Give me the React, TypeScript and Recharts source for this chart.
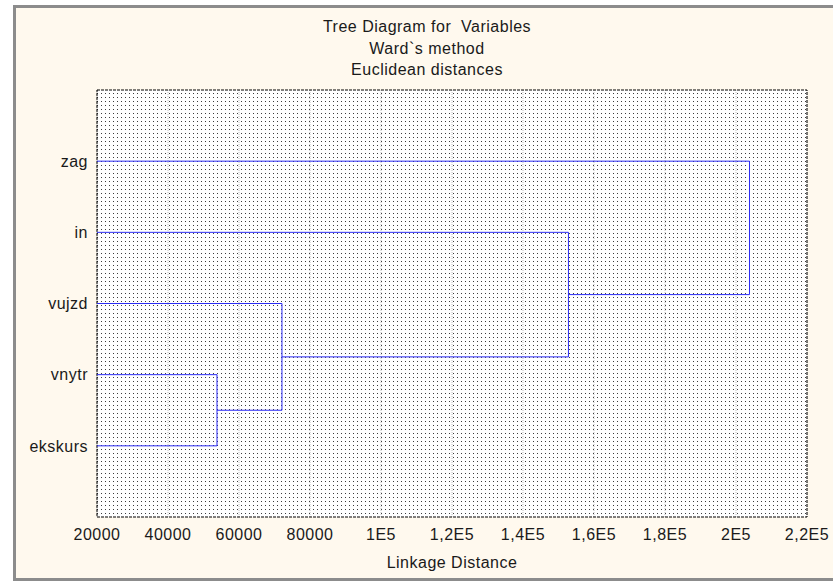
import { CartesianGrid, Line, LineChart, ReferenceArea, XAxis, YAxis } from 'recharts'

const leaves = ['ekskurs', 'vnytr', 'vujzd', 'in', 'zag']
const mergeDistances = [53800, 72100, 152800, 203800]
const xTicks = [20000, 40000, 60000, 80000, 100000, 120000, 140000, 160000, 180000, 200000, 220000]
const titleLines = ['Tree Diagram for  Variables', 'Ward`s method', 'Euclidean distances']
const xLabel = 'Linkage Distance'

const X_MIN = 20000
const X_MAX = 220000
const FONT = '"Liberation Sans", Arial, sans-serif'
const BLUE = '#2b2bf5'

// each merge joins the next leaf (from the bottom) with the cluster built so far
function buildLinks() {
  const links: { x: number; y: number }[][] = []
  let clusterY = 1
  let clusterX = X_MIN
  mergeDistances.forEach((d, i) => {
    const leafY = i + 2
    links.push([
      { x: X_MIN, y: leafY },
      { x: d, y: leafY },
      { x: d, y: clusterY },
      { x: clusterX, y: clusterY },
    ])
    clusterY = (leafY + clusterY) / 2
    clusterX = d
  })
  return links
}

function formatX(v: number) {
  if (v < 100000) return String(v)
  return `${String(v / 100000).replace('.', ',')}E5`
}

const textStyle = { fill: '#1a1a1a', fontSize: 16, fontFamily: FONT, letterSpacing: 0.5 }

export default function App() {
  const links = buildLinks()

  return (
    <div style={{ position: 'absolute', left: 0, top: 0, width: 833, height: 581, background: '#fff', overflow: 'hidden' }}>
      <div
        style={{
          position: 'absolute',
          left: 13,
          top: 5,
          width: 833 - 13,
          height: 581 - 5,
          boxSizing: 'border-box',
          background: '#fff9ee',
          borderLeft: '3px solid #8c8c8c',
          borderTop: '3px solid #8c8c8c',
          borderBottom: '3px solid #8c8c8c',
        }}
      />
      {titleLines.map((t, i) => (
        <div
          key={t}
          style={{
            position: 'absolute',
            left: 227,
            width: 400,
            top: 17 + i * 21.5,
            textAlign: 'center',
            fontFamily: FONT,
            fontSize: 16,
            letterSpacing: 0.5,
            color: '#1a1a1a',
            whiteSpace: 'pre',
            lineHeight: '20px',
          }}
        >
          {t}
        </div>
      ))}
      <div
        style={{
          position: 'absolute',
          left: 252,
          width: 400,
          top: 553,
          textAlign: 'center',
          fontFamily: FONT,
          fontSize: 16,
          letterSpacing: 0.5,
          color: '#1a1a1a',
          lineHeight: '20px',
        }}
      >
        {xLabel}
      </div>
      <div style={{ position: 'absolute', left: 0, top: 0 }}>
        <LineChart width={833} height={581} margin={{ top: 90, right: 26, left: 37, bottom: 24 }}>
          <defs>
            <pattern id="dotFill" width="4" height="4" patternUnits="userSpaceOnUse">
              <rect width="4" height="4" fill="#ffffff" />
              <rect x="1" y="1" width="1" height="1" fill="#3c3c3c" />
            </pattern>
          </defs>
          <CartesianGrid fill="url(#dotFill)" fillOpacity={1} horizontal={false} stroke="#c4c4c4" strokeDasharray="1 1" />
          <XAxis
            type="number"
            dataKey="x"
            domain={[X_MIN, X_MAX]}
            ticks={xTicks}
            tickFormatter={formatX}
            interval={0}
            height={40}
            axisLine={false}
            tickLine={false}
            tickSize={4}
            tickMargin={8}
            tick={textStyle}
          />
          <YAxis
            type="number"
            dataKey="y"
            domain={[0, 6]}
            ticks={[1, 2, 3, 4, 5]}
            tickFormatter={(v: number) => leaves[v - 1]}
            interval={0}
            width={60}
            axisLine={false}
            tickLine={false}
            tickSize={4}
            tickMargin={5}
            tick={textStyle}
          />
          <YAxis
            yAxisId="right"
            orientation="right"
            type="number"
            domain={[0, 6]}
            ticks={[1, 2, 3, 4, 5]}
            tickFormatter={() => ''}
            mirror
            width={0}
            axisLine={false}
            tickLine={{ stroke: '#000' }}
            tickSize={3}
          />
          <ReferenceArea x1={X_MIN} x2={X_MAX} y1={0} y2={6} fill="none" stroke="#000" strokeDasharray="3 1" />
          {links.map((pts, i) => (
            <Line
              key={i}
              data={pts}
              dataKey="y"
              type="linear"
              stroke={BLUE}
              strokeWidth={1}
              dot={false}
              activeDot={false}
              isAnimationActive={false}
            />
          ))}
        </LineChart>
      </div>
    </div>
  )
}
